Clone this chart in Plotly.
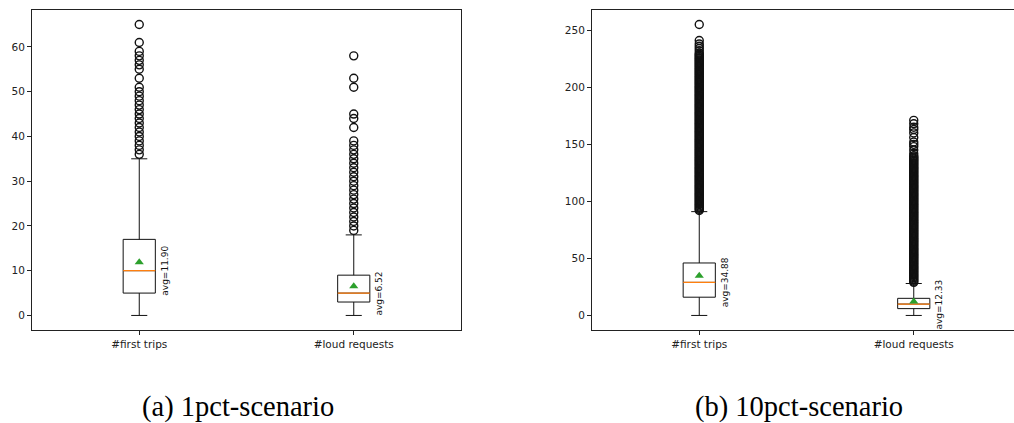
import plotly.graph_objects as go

# ---- summary statistics per scenario ----
categories = ["#first trips", "#loud requests"]
positions = [1, 2]

# 1pct-scenario
p1_q1 = [5, 3]
p1_median = [10, 5]
p1_q3 = [17, 9]
p1_low = [0, 0]
p1_high = [35, 18]
p1_mean = [11.90, 6.52]
p1_out_trips = [36, 37, 38, 39, 40, 41, 42, 43, 44, 45, 46, 47, 48, 49, 50, 51,
                53, 55, 56, 57, 58, 59, 61, 65]
p1_out_loud = [19, 20, 21, 22, 23, 24, 25, 26, 27, 28, 29, 30, 31, 32, 33, 34,
               35, 36, 37, 38, 39, 42, 44, 45, 51, 53, 58]

# 10pct-scenario
p10_q1 = [16, 6]
p10_median = [29, 10]
p10_q3 = [46, 15]
p10_low = [0, 0]
p10_high = [91, 28]
p10_mean = [34.88, 12.33]
p10_out_trips = [
    92, 93, 94, 95, 96, 97, 98, 99, 100, 101, 102, 103, 104, 105, 106, 107, 108,
    109, 110, 111, 112, 113, 114, 115, 116, 117, 118, 119, 120, 121, 122, 123,
    124, 125, 126, 127, 128, 129, 130, 131, 132, 133, 134, 135, 136, 137, 138,
    139, 140, 141, 142, 143, 144, 145, 146, 147, 148, 149, 150, 151, 152, 153,
    154, 155, 156, 157, 158, 159, 160, 161, 162, 163, 164, 165, 166, 167, 168,
    169, 170, 171, 172, 173, 174, 175, 176, 177, 178, 179, 180, 181, 182, 183,
    184, 185, 186, 187, 188, 189, 190, 191, 192, 193, 194, 195, 196, 197, 198,
    199, 200, 201, 202, 203, 204, 205, 206, 207, 208, 209, 210, 211, 212, 213,
    214, 215, 216, 217, 218, 219, 220, 221, 222, 223, 224, 225, 226, 227, 228,
    229, 230, 232, 234, 236, 238, 241, 255]
p10_out_loud = [
    29, 30, 31, 32, 33, 34, 35, 36, 37, 38, 39, 40, 41, 42, 43, 44, 45, 46, 47,
    48, 49, 50, 51, 52, 53, 54, 55, 56, 57, 58, 59, 60, 61, 62, 63, 64, 65, 66,
    67, 68, 69, 70, 71, 72, 73, 74, 75, 76, 77, 78, 79, 80, 81, 82, 83, 84, 85,
    86, 87, 88, 89, 90, 91, 92, 93, 94, 95, 96, 97, 98, 99, 100, 101, 102, 103,
    104, 105, 106, 107, 108, 109, 110, 111, 112, 113, 114, 115, 116, 117, 118,
    119, 120, 121, 122, 123, 124, 125, 126, 127, 128, 129, 130, 131, 132, 133,
    134, 135, 136, 137, 138, 139, 140, 142, 145, 148, 150, 152, 156, 160, 163,
    165, 168, 171]

captions = ["(a) 1pct-scenario", "(b) 10pct-scenario"]
y_ticks_1 = [0, 10, 20, 30, 40, 50, 60]
y_ticks_10 = [0, 50, 100, 150, 200, 250]

W, H = 1014, 423
BOX_W = 0.15
TICK_FONT = dict(family="DejaVu Sans", size=10.5, color="#222222")

fig = go.Figure()


def add_panel(xa, ya, q1, med, q3, low, high, mean, outliers):
    xref = "x" if xa == "xaxis" else "x2"
    yref = "y" if ya == "yaxis" else "y2"
    fig.add_trace(go.Box(
        x=positions, q1=q1, median=med, q3=q3,
        lowerfence=low, upperfence=high,
        width=BOX_W, whiskerwidth=0.5, boxpoints=False,
        fillcolor="rgba(0,0,0,0)", line=dict(color="#111111", width=1),
        xaxis=xref, yaxis=yref, showlegend=False, hoverinfo="skip"))
    # outlier points
    for p, vals in zip(positions, outliers):
        fig.add_trace(go.Scatter(
            x=[p] * len(vals), y=vals, mode="markers",
            marker=dict(symbol="circle-open", size=8, color="#111111",
                        line=dict(width=1.4, color="#111111")),
            xaxis=xref, yaxis=yref, showlegend=False, hoverinfo="skip"))
    # median lines (orange) over the box
    for p, m in zip(positions, med):
        fig.add_trace(go.Scatter(
            x=[p - BOX_W / 2, p + BOX_W / 2], y=[m, m], mode="lines",
            line=dict(color="#ff7f0e", width=1.3),
            xaxis=xref, yaxis=yref, showlegend=False, hoverinfo="skip"))
    # mean markers
    fig.add_trace(go.Scatter(
        x=positions, y=mean, mode="markers",
        marker=dict(symbol="triangle-up", size=8, color="#2ca02c"),
        xaxis=xref, yaxis=yref, showlegend=False, hoverinfo="skip"))
    # average labels next to each box
    for p, m, mu in zip(positions, med, mean):
        fig.add_annotation(
            x=p + 0.12, y=m, xref=xref, yref=yref, text=f"avg={mu:.2f}",
            textangle=-90, showarrow=False,
            font=dict(family="DejaVu Sans", size=9, color="#111111"))


add_panel("xaxis", "yaxis", p1_q1, p1_median, p1_q3, p1_low, p1_high,
          p1_mean, [p1_out_trips, p1_out_loud])
add_panel("xaxis2", "yaxis2", p10_q1, p10_median, p10_q3, p10_low, p10_high,
          p10_mean, [p10_out_trips, p10_out_loud])

y_bottom = (H - 330) / H
y_top = (H - 10) / H

axis_common = dict(showgrid=False, zeroline=False, ticks="outside", ticklen=4,
                   tickwidth=1, tickcolor="#222222", showline=True,
                   linecolor="#222222", linewidth=1, tickfont=TICK_FONT)

fig.update_layout(
    width=W, height=H,
    margin=dict(l=0, r=0, t=0, b=0),
    paper_bgcolor="white", plot_bgcolor="white",
    xaxis=dict(domain=[32 / W, 461 / W], range=[0.5, 2.5],
               tickvals=positions, ticktext=categories, mirror=True,
               anchor="y", **axis_common),
    yaxis=dict(domain=[y_bottom, y_top], range=[-3.25, 68.25],
               tickvals=y_ticks_1, mirror=True, anchor="x", **axis_common),
    xaxis2=dict(domain=[592 / W, 1.0], range=[0.5, 0.5 + 422 / 214.5],
                tickvals=positions, ticktext=categories, mirror=True,
                anchor="y2", **axis_common),
    yaxis2=dict(domain=[y_bottom, y_top], range=[-12.75, 267.75],
                tickvals=y_ticks_10, mirror=False, anchor="x2", **axis_common),
)

# sub-figure captions
for cx, cap in zip([238 / W, 799 / W], captions):
    fig.add_annotation(x=cx, y=(H - 407) / H, xref="paper", yref="paper",
                       text=cap, showarrow=False, xanchor="center",
                       yanchor="middle",
                       font=dict(family="Liberation Serif", size=28.5,
                                 color="black"))

fig.write_html("out.html")
